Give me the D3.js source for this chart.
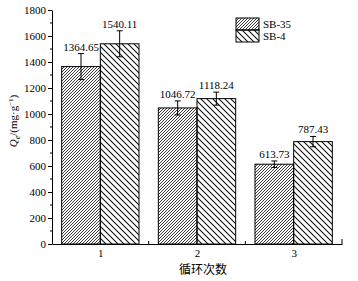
<!DOCTYPE html>
<html>
<head>
<meta charset="utf-8">
<script src="https://cdn.jsdelivr.net/npm/d3@7"></script>
<style>
  body { margin: 0; background: #fff; }
  text { font-family: "Liberation Serif", "Times New Roman", serif; }
</style>
</head>
<body>
<div id="chart"></div>
<script>
// data
const cycles = [1, 2, 3];
const seriesNames = ["SB-35", "SB-4"];
const sb35 = [1364.65, 1046.72, 613.73];
const sb4 = [1540.11, 1118.24, 787.43];
const sb35Err = [100, 54, 25];
const sb4Err = [100, 50, 40];
const yTicks = [0, 200, 400, 600, 800, 1000, 1200, 1400, 1600, 1800];

(() => {
  const width = 358, height = 281;
  const margin = { top: 10, right: 16, bottom: 37, left: 52 };
  const innerWidth = width - margin.left - margin.right;
  const innerHeight = height - margin.top - margin.bottom;

  const svg = d3.select("#chart").append("svg")
    .attr("width", width)
    .attr("height", height);

  // hatch patterns: "/" dense for SB-35, "\" wide for SB-4
  const defs = svg.append("defs");
  const s1 = 3;
  defs.append("pattern")
    .attr("id", "hatch35")
    .attr("patternUnits", "userSpaceOnUse")
    .attr("width", s1).attr("height", s1)
    .append("path")
    .attr("d", `M0,${s1} L${s1},0 M-1,1 L1,-1 M${s1 - 1},${s1 + 1} L${s1 + 1},${s1 - 1}`)
    .attr("stroke", "#222").attr("stroke-width", 0.9);
  const s2 = 6;
  defs.append("pattern")
    .attr("id", "hatch4")
    .attr("patternUnits", "userSpaceOnUse")
    .attr("width", s2).attr("height", s2)
    .append("path")
    .attr("d", `M0,0 L${s2},${s2} M-1,${s2 - 1} L1,${s2 + 1} M${s2 - 1},-1 L${s2 + 1},1`)
    .attr("stroke", "#111").attr("stroke-width", 1.1);

  const g = svg.append("g")
    .attr("transform", `translate(${margin.left},${margin.top})`);

  const x = d3.scaleLinear().domain([0.5, 3.5]).range([0, innerWidth]);
  const y = d3.scaleLinear().domain([0, 1800]).range([innerHeight, 0]);

  const barW = x(1.4) - x(1);
  const rows = [];
  cycles.forEach((c, i) => {
    rows.push({ s: 0, c, v: sb35[i], e: sb35Err[i] });
    rows.push({ s: 1, c, v: sb4[i], e: sb4Err[i] });
  });
  const bx = d => d.s === 0 ? x(d.c) - barW : x(d.c);

  // bars
  g.selectAll(".bar")
    .data(rows)
    .enter()
    .append("rect")
    .attr("x", bx)
    .attr("y", d => y(d.v))
    .attr("width", barW)
    .attr("height", d => innerHeight - y(d.v))
    .attr("fill", d => d.s === 0 ? "url(#hatch35)" : "url(#hatch4)")
    .attr("stroke", "#000")
    .attr("stroke-width", 1);

  // error bars
  const eb = g.selectAll(".err").data(rows).enter().append("g")
    .attr("stroke", "#000").attr("stroke-width", 1);
  eb.append("line")
    .attr("x1", d => bx(d) + barW / 2).attr("x2", d => bx(d) + barW / 2)
    .attr("y1", d => y(d.v + d.e)).attr("y2", d => y(d.v - d.e));
  [1, -1].forEach(sgn => {
    eb.append("line")
      .attr("x1", d => bx(d) + barW / 2 - 3).attr("x2", d => bx(d) + barW / 2 + 3)
      .attr("y1", d => y(d.v + sgn * d.e)).attr("y2", d => y(d.v + sgn * d.e));
  });

  // value labels
  g.selectAll(".val")
    .data(rows)
    .enter()
    .append("text")
    .attr("x", d => bx(d) + barW / 2)
    .attr("y", d => y(d.v + d.e) - 3)
    .attr("text-anchor", "middle")
    .attr("font-size", 11)
    .attr("fill", "#000")
    .text(d => d.v.toFixed(2));

  // y axis
  const yAxis = g.append("g")
    .call(d3.axisLeft(y).tickValues(yTicks).tickFormat(d3.format("d"))
      .tickSize(4).tickPadding(2).tickSizeOuter(0));
  yAxis.selectAll("text").attr("font-size", 11).attr("fill", "#000")
    .style("font-family", "'Liberation Serif', serif");
  yAxis.selectAll("line, path").attr("stroke", "#000");
  yAxis.append("g").selectAll("line")
    .data(d3.range(100, 1800, 200))
    .enter().append("line")
    .attr("x1", -2).attr("x2", 0)
    .attr("y1", d => y(d)).attr("y2", d => y(d))
    .attr("stroke", "#000");

  // x axis
  const xAxis = g.append("g")
    .attr("transform", `translate(0,${innerHeight})`)
    .call(d3.axisBottom(x).tickValues(cycles).tickSize(0).tickPadding(5)
      .tickFormat(d3.format("d")).tickSizeOuter(0));
  xAxis.selectAll("text").attr("font-size", 11).attr("fill", "#000")
    .style("font-family", "'Liberation Serif', serif");
  xAxis.select("path").attr("stroke", "#000");
  xAxis.append("g").selectAll("line")
    .data([1.5, 2.5, 3.5])
    .enter().append("line")
    .attr("x1", d => x(d)).attr("x2", d => x(d))
    .attr("y1", 0).attr("y2", d => d === 3.5 ? -5 : -3)
    .attr("stroke", "#000");

  // axis titles
  g.append("text")
    .attr("x", x(2) + 6)
    .attr("y", innerHeight + 30)
    .attr("text-anchor", "middle")
    .attr("font-size", 12)
    .style("font-family", "'Noto Sans CJK SC', sans-serif")
    .text("循环次数");

  const yt = svg.append("text")
    .attr("transform", `translate(17,${margin.top + innerHeight / 2 - 6}) rotate(-90)`)
    .attr("text-anchor", "middle")
    .attr("font-size", 11);
  yt.append("tspan").attr("font-style", "italic").text("Q");
  yt.append("tspan").attr("font-style", "italic").attr("font-size", 8).attr("dy", 3).text("e");
  yt.append("tspan").attr("dy", -3).text("/(mg·g");
  yt.append("tspan").attr("font-size", 7).attr("dy", -4).text("−1");
  yt.append("tspan").attr("dy", 4).text(")");

  // legend
  const legend = svg.append("g").attr("transform", "translate(236,18)");
  seriesNames.forEach((name, i) => {
    legend.append("rect")
      .attr("x", 0).attr("y", i * 12)
      .attr("width", 23).attr("height", 12)
      .attr("fill", i === 0 ? "url(#hatch35)" : "url(#hatch4)")
      .attr("stroke", "#000").attr("stroke-width", 1);
    legend.append("text")
      .attr("x", 27).attr("y", i * 12 + 10)
      .attr("font-size", 11)
      .text(name);
  });
})();
</script>
</body>
</html>
